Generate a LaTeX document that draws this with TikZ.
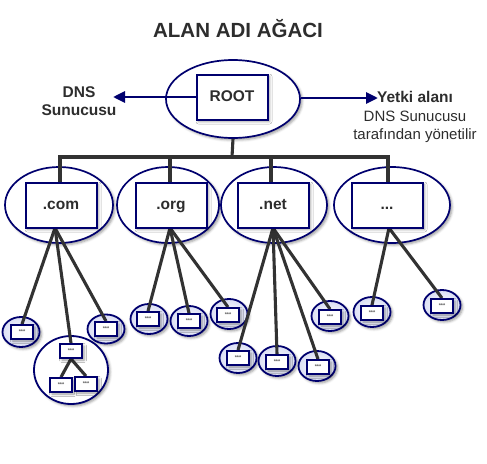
\documentclass[tikz,border=0pt]{standalone}
\usepackage{fontspec}
\setmainfont{Liberation Sans}
\usetikzlibrary{shapes.geometric,arrows.meta,shadows.blur}
\definecolor{navy}{RGB}{0,0,110}
\definecolor{txt}{RGB}{45,45,45}
\definecolor{ln}{RGB}{50,50,50}
\definecolor{leafout}{RGB}{218,222,244}
\pgfdeclarelayer{back}\pgfdeclarelayer{mid}
\pgfsetlayers{back,mid,main}
\tikzset{
 shd/.style={blur shadow={shadow xshift=2pt,shadow yshift=-2pt,shadow blur radius=2.5pt,shadow opacity=40}},
 bigell/.style={ellipse,draw=navy,line width=1.7pt,fill=white,inner sep=0pt,shd},
 bigbox/.style={rectangle,draw=navy,line width=2pt,fill=white,minimum width=71pt,minimum height=45pt,inner sep=0pt,text height=11pt,text depth=3pt,font=\bfseries\fontsize{15.5}{18}\selectfont,text=txt,shd},
 leafell/.style={ellipse,draw=navy,line width=1.8pt,inner color=white,outer color=leafout,minimum width=37pt,minimum height=30pt,inner sep=0pt,shd},
 leafbox/.style={rectangle,draw=navy,line width=1.8pt,fill=white,minimum width=22pt,minimum height=14pt,inner sep=0pt,font=\bfseries\fontsize{5.5}{5.5}\selectfont,text=txt!80,shd},
 conn/.style={draw=ln,line width=3.1pt},
 arr/.style={draw=navy,line width=2.9pt,-{Triangle[length=12pt,width=11pt]}},
 lbl/.style={text=txt,align=center,font=\fontsize{15}{18.5}\selectfont},
}
\begin{document}
\begin{tikzpicture}[x=1pt,y=-1pt]
\useasboundingbox (0,0) rectangle (487,463);
% title
\node[text=txt,font=\bfseries\fontsize{20.5}{24}\selectfont] (title) at (238,29) {ALAN ADI AĞACI};
% boxes (main layer)
\node[bigbox] (rootb) at (232,97) {ROOT};
\node[bigbox] (comb) at (61,205) {.com};
\node[bigbox] (orgb) at (171,205) {.org};
\node[bigbox] (netb) at (273,205) {.net};
\node[bigbox] (dotb) at (387,205) {...};
\node[leafbox] (c1b) at (22,332) {***};
\node[leafbox] (c2b) at (106,329) {***};
\node[leafbox] (gtb) at (71,351) {***};
\node[leafbox] (glb) at (61,385) {***};
\node[leafbox] (grb) at (86,384) {***};
\node[leafbox] (o1b) at (148,319) {***};
\node[leafbox] (o2b) at (189,321) {***};
\node[leafbox] (o3b) at (228,315) {***};
\node[leafbox] (n1b) at (330,317) {***};
\node[leafbox] (n2b) at (238,358) {***};
\node[leafbox] (n3b) at (277,362) {***};
\node[leafbox] (n4b) at (318,367) {***};
\node[leafbox] (d1b) at (372,313) {***};
\node[leafbox] (d2b) at (442,306) {***};
% labels
\node[lbl,font=\bfseries\fontsize{15.5}{18.5}\selectfont] (dnsl) at (79,101) {DNS\\Sunucusu};
\node[lbl] (yetki) at (415,117) {\textbf{\fontsize{15.5}{18.5}\selectfont Yetki alanı}\\DNS Sunucusu\\tarafından yönetilir};
% ellipses (back layer)
\begin{pgfonlayer}{back}
\node[bigell,minimum width=134pt,minimum height=78pt] (roote) at (233,99) {};
\node[bigell,minimum width=108pt,minimum height=76pt] (come) at (59,205) {};
\node[bigell,minimum width=102pt,minimum height=76pt] (orge) at (168,205) {};
\node[bigell,minimum width=106pt,minimum height=76pt] (nete) at (274,205) {};
\node[bigell,minimum width=116pt,minimum height=76pt] (dote) at (392,205) {};
\node[leafell] (c1e) at (21,332) {};
\node[leafell,minimum height=29pt] (c2e) at (106,329) {};
\node[bigell,line width=1.8pt,minimum width=74pt,minimum height=68pt] (ge) at (71,370) {};
\node[leafell] (o1e) at (149,319) {};
\node[leafell] (o2e) at (189,321) {};
\node[leafell] (o3e) at (229,314) {};
\node[leafell] (n1e) at (330,316) {};
\node[leafell] (n2e) at (238,358) {};
\node[leafell] (n3e) at (277,361) {};
\node[leafell] (n4e) at (317,366) {};
\node[leafell] (d1e) at (372,312) {};
\node[leafell] (d2e) at (442,305) {};
\end{pgfonlayer}
% connectors (mid layer)
\begin{pgfonlayer}{mid}
\coordinate (bar) at (232,157);
\coordinate (barl) at (60,157);
\coordinate (barr) at (388,157);
\draw[conn] (roote.south) -- (bar);
\draw[conn,line cap=rect] (barl) -- (barr);
\draw[conn] (barl) -- (barl |- comb.north);
\draw[conn] (170,157) -- (170,182);
\draw[conn] (271,157) -- (271,182);
\draw[conn] (barr) -- (barr |- dotb.north);
\draw[arr] (rootb.west) -- (113,97);
\draw[arr] (roote.east |- 0,98) -- (378,98);
\coordinate (comf) at (55,228);
\coordinate (orgf) at (170,228);
\coordinate (netf) at (273,228);
\coordinate (dotf) at (389,228);
\draw[conn] (comf) -- (c1b.north);
\draw[conn] (comf) -- (gtb.north);
\draw[conn] (comf) -- (c2b.north);
\draw[conn] (gtb.south) -- (glb.north);
\draw[conn] (gtb.south) -- (grb.north);
\draw[conn] (orgf) -- (o1b.north);
\draw[conn] (orgf) -- (o2b.north);
\draw[conn] (orgf) -- (o3b.north);
\draw[conn] (netf) -- (n2b.north);
\draw[conn] (netf) -- (n3b.north);
\draw[conn] (netf) -- (n4b.north);
\draw[conn] (netf) -- (n1b.north);
\draw[conn] (dotf) -- (d1b.north);
\draw[conn] (dotf) -- (d2b.north);
\end{pgfonlayer}
\end{tikzpicture}
\end{document}
